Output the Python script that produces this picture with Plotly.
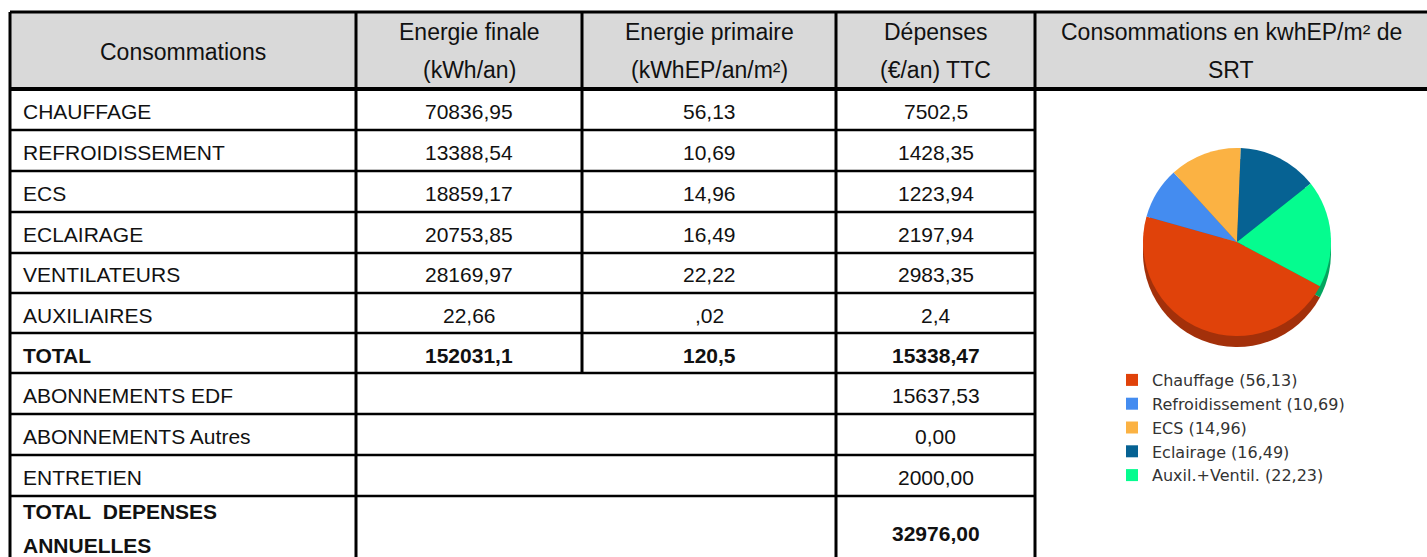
import plotly.graph_objects as go

# ---------------- data ----------------
header_consommations = ["Consommations"]
header_finale = ["Energie finale", "(kWh/an)"]
header_primaire = ["Energie primaire", "(kWhEP/an/m²)"]
header_depenses = ["Dépenses", "(€/an) TTC"]
header_chart = ["Consommations en kwhEP/m² de", "SRT"]

postes = ["CHAUFFAGE", "REFROIDISSEMENT", "ECS", "ECLAIRAGE", "VENTILATEURS", "AUXILIAIRES"]
energie_finale = ["70836,95", "13388,54", "18859,17", "20753,85", "28169,97", "22,66"]
energie_primaire = ["56,13", "10,69", "14,96", "16,49", "22,22", ",02"]
depenses = ["7502,5", "1428,35", "1223,94", "2197,94", "2983,35", "2,4"]

total_label = "TOTAL"
total_finale = "152031,1"
total_primaire = "120,5"
total_depenses = "15338,47"

autres_postes = ["ABONNEMENTS EDF", "ABONNEMENTS Autres", "ENTRETIEN"]
autres_depenses = ["15637,53", "0,00", "2000,00"]

total_annuel_label = ["TOTAL\u00a0 DEPENSES", "ANNUELLES"]
total_annuel = "32976,00"

pie_labels = ["Chauffage", "Refroidissement", "ECS", "Eclairage", "Auxil.+Ventil."]
pie_values = [56.13, 10.69, 14.96, 16.49, 22.23]

# ---------------- styling / layout constants ----------------
W, H = 1427, 557
pie_colors = ["#E0420A", "#448CF0", "#FBB243", "#066293", "#05FC8F"]
side_colors = ["#A3300A", "#2F62A8", "#B07D2E", "#044566", "#03A55E"]

col_x = [10, 356, 582, 836, 1035, 1427]
row_y = [12, 89, 130, 171, 212, 253, 293, 333, 373, 414, 455, 496, 600]

FONT = "Liberation Sans, Arial, sans-serif"
BODY = 21
HEAD = 23
INK = "#111111"


def px(x):
    return x / W


def py(y):
    return 1 - y / H


shapes = []
annotations = []


def line(x0, y0, x1, y1, w=2.5):
    shapes.append(dict(type="line", xref="paper", yref="paper",
                       x0=px(x0), y0=py(y0), x1=px(x1), y1=py(y1),
                       line=dict(color="#000000", width=w)))


def text(t, x, y, xanchor="center", bold=False, size=BODY):
    annotations.append(dict(text=f"<b>{t}</b>" if bold else t,
                            x=px(x), y=py(y), xref="paper", yref="paper",
                            xanchor=xanchor, yanchor="middle", showarrow=False,
                            font=dict(family=FONT, size=size, color=INK)))


# header background
shapes.append(dict(type="rect", xref="paper", yref="paper", layer="below",
                   x0=px(col_x[0]), x1=px(col_x[-1]), y0=py(row_y[0]), y1=py(row_y[1]),
                   fillcolor="#D9D9D9", line=dict(width=0)))

# grid
line(col_x[0], row_y[0], col_x[-1], row_y[0], 3)
line(col_x[0], row_y[1], col_x[-1], row_y[1], 4)
for yy in row_y[2:-1]:
    line(col_x[0], yy, col_x[4], yy, 2.5)
line(col_x[0], row_y[0], col_x[0], H + 5, 3)
line(col_x[1], row_y[0], col_x[1], H + 5, 3)
line(col_x[2], row_y[0], col_x[2], row_y[8], 3)
line(col_x[3], row_y[0], col_x[3], H + 5, 3)
line(col_x[4], row_y[0], col_x[4], H + 5, 3)

# header text
centers = [(col_x[i] + col_x[i + 1]) / 2 for i in range(5)]
text(header_consommations[0], centers[0], 52, size=HEAD)
for ci, hdr in zip([1, 2, 3, 4], [header_finale, header_primaire, header_depenses, header_chart]):
    text(hdr[0], centers[ci], 32, size=HEAD)
    text(hdr[1], centers[ci], 70, size=HEAD)

# body rows
LX = 21
for i, name in enumerate(postes):
    yc = (row_y[1 + i] + row_y[2 + i]) / 2 + 2
    text(name, LX, yc, xanchor="left")
    text(energie_finale[i], centers[1], yc)
    text(energie_primaire[i], centers[2], yc)
    text(depenses[i], centers[3], yc)

yc = (row_y[7] + row_y[8]) / 2 + 2
text(total_label, LX, yc, xanchor="left", bold=True)
text(total_finale, centers[1], yc, bold=True)
text(total_primaire, centers[2], yc, bold=True)
text(total_depenses, centers[3], yc, bold=True)

for i, name in enumerate(autres_postes):
    yc = (row_y[8 + i] + row_y[9 + i]) / 2 + 2
    text(name, LX, yc, xanchor="left")
    text(autres_depenses[i], centers[3], yc)

text(total_annuel_label[0], LX, 511, xanchor="left", bold=True)
text(total_annuel_label[1], LX, 545, xanchor="left", bold=True)
text(total_annuel, centers[3], 533, bold=True)

# ---------------- pie ----------------
legend_labels = [f"{n} ({str(v).replace('.', ',')})" for n, v in zip(pie_labels, pie_values)]
cx, cy, r, depth = 1237, 242, 94, 11

fig = go.Figure()
fig.add_trace(go.Pie(
    labels=legend_labels, values=pie_values, sort=False, direction="clockwise",
    rotation=118, textinfo="none", hoverinfo="skip", showlegend=False,
    marker=dict(colors=side_colors, line=dict(width=0)),
    domain=dict(x=[px(cx - r), px(cx + r)], y=[py(cy + depth + r), py(cy + depth - r)]),
))
fig.add_trace(go.Pie(
    labels=legend_labels, values=pie_values, sort=False, direction="clockwise",
    rotation=118, textinfo="none", hoverinfo="label+value",
    marker=dict(colors=pie_colors, line=dict(width=0)),
    domain=dict(x=[px(cx - r), px(cx + r)], y=[py(cy + r), py(cy - r)]),
))

fig.update_layout(
    width=W, height=H, margin=dict(l=0, r=0, t=0, b=0),
    paper_bgcolor="white", plot_bgcolor="white",
    shapes=shapes, annotations=annotations,
    showlegend=True,
    legend=dict(x=px(1112), y=py(363), xanchor="left", yanchor="top",
                bgcolor="rgba(0,0,0,0)", borderwidth=0,
                font=dict(family="DejaVu Sans, Verdana, sans-serif", size=16, color="#333333")),
)

fig.write_html("out.html", config={"displayModeBar": False},
               post_script="document.body.style.margin='0';")
